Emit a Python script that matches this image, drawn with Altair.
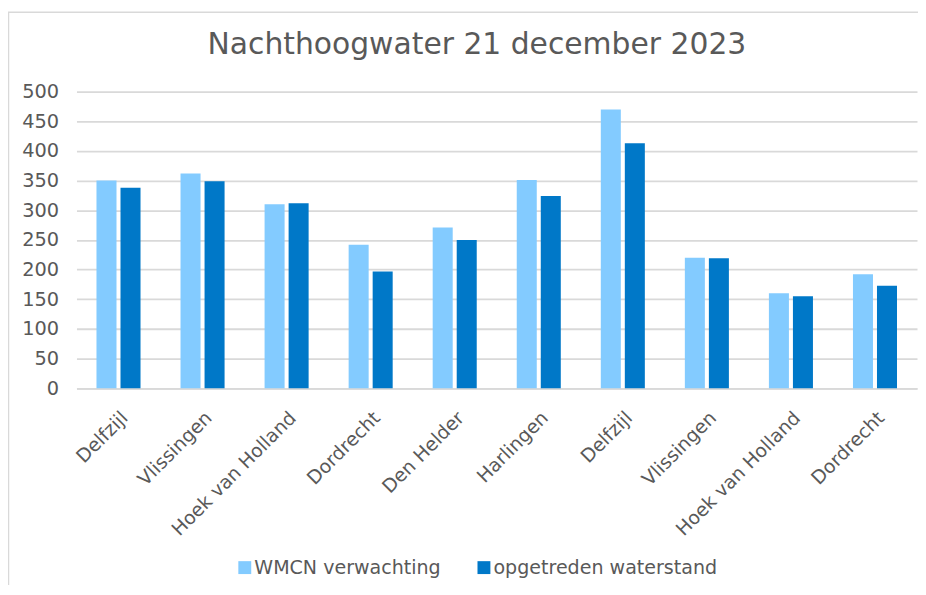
import json
import altair as alt
import pandas as pd

# ---- data ----
stations = ["Delfzijl", "Vlissingen", "Hoek van Holland", "Dordrecht", "Den Helder",
            "Harlingen", "Delfzijl", "Vlissingen", "Hoek van Holland", "Dordrecht"]
wmcn_verwachting = [350, 362, 310, 242, 271, 351, 470, 220, 160, 192]
opgetreden_waterstand = [338, 349, 312, 197, 250, 324, 413, 219, 155, 173]
series = ["WMCN verwachting", "opgetreden waterstand"]
colors = ["#83CBFF", "#0078C8"]
y_ticks = [0, 50, 100, 150, 200, 250, 300, 350, 400, 450, 500]
title_text = "Nachthoogwater 21 december 2023"

rows = []
for i, name in enumerate(stations):
    rows.append({"pos": i, "station": name, "serie": series[0], "waarde": wmcn_verwachting[i]})
    rows.append({"pos": i, "station": name, "serie": series[1], "waarde": opgetreden_waterstand[i]})
df = pd.DataFrame(rows)

label_expr = json.dumps(stations) + "[datum.value]"
FONT = "DejaVu Sans"
TXT = "#595959"
GRID = "#D9D9D9"

frame = alt.Chart(pd.DataFrame({"f": [0]})).mark_rect(
    fillOpacity=0, stroke=GRID, strokeWidth=1.5
).encode(
    x=alt.value(-68.5), x2=alt.value(1200), y=alt.value(-80), y2=alt.value(1200)
)

bars = alt.Chart(df).mark_bar().encode(
    x=alt.X(
        "pos:O",
        scale=alt.Scale(paddingInner=0.476, paddingOuter=0.238),
        axis=alt.Axis(
            title=None, labelExpr=label_expr, labelAngle=-45,
            labelAlign="right", labelBaseline="top", labelPadding=20,
            labelFontSize=19,
        ),
    ),
    xOffset=alt.XOffset("serie:N", sort=series,
                        scale=alt.Scale(paddingInner=0.1667, paddingOuter=0)),
    y=alt.Y(
        "waarde:Q",
        scale=alt.Scale(domain=[0, 500]),
        axis=alt.Axis(title=None, values=y_ticks, labelPadding=18, labelFontSize=19.5),
    ),
    color=alt.Color(
        "serie:N",
        sort=series,
        scale=alt.Scale(domain=series, range=colors),
        legend=alt.Legend(
            title=None, orient="none", legendX=160, legendY=470,
            direction="horizontal", symbolType="square", symbolSize=169,
            symbolStrokeWidth=0, labelFontSize=19.2, labelFont=FONT,
            labelColor=TXT, labelOffset=0, columnPadding=34, labelLimit=400,
        ),
    ),
)

chart = alt.layer(frame, bars).properties(
    width=847,
    height=299,
    autosize=alt.AutoSizeParams(type="none"),
    padding={"left": 69, "top": 82, "right": 1, "bottom": 196},
    title=alt.TitleParams(
        title_text, fontSize=30, font=FONT, color=TXT, fontWeight="normal",
        anchor="middle", dx=-20, dy=73, baseline="alphabetic", offset=0,
    ),
).configure_view(
    strokeWidth=0
).configure_axis(
    labelFont=FONT, labelColor=TXT, labelFontSize=18, ticks=False,
).configure_axisX(
    domainColor=GRID, domainWidth=1.8, grid=False,
).configure_axisY(
    domain=False, grid=True, gridColor=GRID, gridWidth=1.8,
)

chart.save("out.html", embed_options={"renderer": "svg", "actions": False})
